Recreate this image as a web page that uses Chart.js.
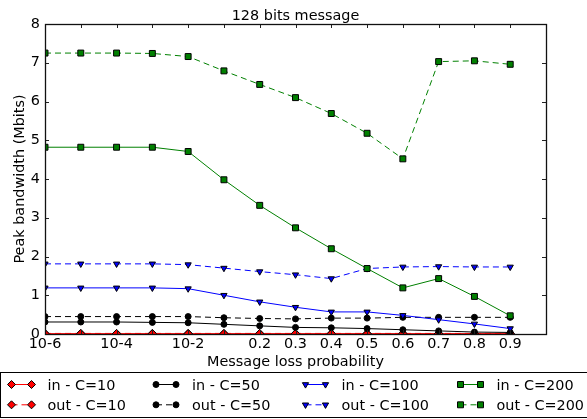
<!DOCTYPE html>
<html>
<head>
<meta charset="utf-8">
<script src="https://cdn.jsdelivr.net/npm/chart.js"></script>
<style>
  html, body { margin: 0; padding: 0; background: #fff; }
  #wrap { width: 587px; height: 419px; }
</style>
</head>
<body>
<div id="wrap"><canvas id="c" width="587" height="419"></canvas></div>
<script>
// Loss probabilities tested (one point per category, plotted at positions 0..13)
const categories = ['10-6', '10-5', '10-4', '10-3', '10-2', '0.1', '0.2', '0.3', '0.4', '0.5', '0.6', '0.7', '0.8', '0.9'];
// Labels shown under the axis ticks 0..14
const tickLabels = ['10-6', '', '10-4', '', '10-2', '', '0.2', '0.3', '0.4', '0.5', '0.6', '0.7', '0.8', '0.9', ''];
const yTickValues = [0, 1, 2, 3, 4, 5, 6, 7, 8];

// Peak bandwidth (Mbits) per loss probability
const inC10   = [0.01, 0.01, 0.01, 0.01, 0.01, 0.01, 0.01, 0.01, 0.01, 0.01, 0.01, 0.01, 0.01, 0.01];
const outC10  = [0.015, 0.015, 0.015, 0.015, 0.015, 0.015, 0.015, 0.015, 0.015, 0.015, 0.015, 0.015, 0.015, 0.015];
const inC50   = [0.31, 0.31, 0.31, 0.30, 0.29, 0.25, 0.21, 0.17, 0.16, 0.14, 0.11, 0.08, 0.05, 0.04];
const outC50  = [0.45, 0.45, 0.45, 0.45, 0.45, 0.42, 0.40, 0.39, 0.41, 0.41, 0.43, 0.43, 0.43, 0.43];
const inC100  = [1.19, 1.19, 1.19, 1.19, 1.17, 1.00, 0.83, 0.69, 0.57, 0.57, 0.48, 0.37, 0.26, 0.14];
const outC100 = [1.81, 1.81, 1.81, 1.81, 1.79, 1.70, 1.61, 1.53, 1.43, 1.69, 1.73, 1.74, 1.73, 1.73];
const inC200  = [4.82, 4.82, 4.82, 4.82, 4.71, 3.98, 3.32, 2.74, 2.20, 1.69, 1.19, 1.43, 0.97, 0.47];
const outC200 = [7.25, 7.25, 7.25, 7.24, 7.16, 6.79, 6.44, 6.10, 5.69, 5.18, 4.52, 7.03, 7.05, 6.96];

// Appearance of each series
const seriesDefs = [
  { label: 'in - C=10',   values: inC10,   color: '#ff0000', dash: [],     marker: 'rectRot',  radius: 4.0, rot: 0 },
  { label: 'out - C=10',  values: outC10,  color: '#ff0000', dash: [6, 4], marker: 'rectRot',  radius: 4.0, rot: 0 },
  { label: 'in - C=50',   values: inC50,   color: '#000000', dash: [],     marker: 'circle',   radius: 3.0, rot: 0 },
  { label: 'out - C=50',  values: outC50,  color: '#000000', dash: [6, 4], marker: 'circle',   radius: 3.0, rot: 0 },
  { label: 'in - C=100',  values: inC100,  color: '#0000ff', dash: [],     marker: 'triangle', radius: 3.6, rot: 180 },
  { label: 'out - C=100', values: outC100, color: '#0000ff', dash: [6, 4], marker: 'triangle', radius: 3.6, rot: 180 },
  { label: 'in - C=200',  values: inC200,  color: '#008000', dash: [],     marker: 'rect',     radius: 4.2, rot: 0 },
  { label: 'out - C=200', values: outC200, color: '#008000', dash: [6, 4], marker: 'rect',     radius: 4.2, rot: 0 }
];

const FONT = 'DejaVu Sans';
const FS = 14.4;
Chart.defaults.font.family = FONT;
Chart.defaults.font.size = FS;
Chart.defaults.color = '#000';

const datasets = seriesDefs.map((s, i) => ({
  label: s.label,
  data: s.values.map((v, k) => ({ x: k, y: v })),
  borderColor: s.color,
  backgroundColor: s.color,
  borderWidth: 1,
  borderDash: s.dash,
  pointStyle: s.marker,
  pointRadius: s.radius,
  pointHoverRadius: s.radius,
  pointRotation: s.rot,
  pointBackgroundColor: s.color,
  pointBorderColor: '#000',
  pointBorderWidth: 1,
  tension: 0,
  clip: 0,
  order: seriesDefs.length - i
}));

// Frame with inward tick marks on all four sides
const framePlugin = {
  id: 'frame',
  afterDatasetsDraw(chart) {
    const { ctx, chartArea: a, scales } = chart;
    const tl = 4;
    ctx.save();
    ctx.strokeStyle = '#222';
    ctx.lineWidth = 1;
    ctx.beginPath();
    scales.x.ticks.forEach(t => {
      const px = Math.round(scales.x.getPixelForValue(t.value)) + 0.5;
      if (px <= a.left + 1 || px >= a.right - 1) return;
      ctx.moveTo(px, a.bottom); ctx.lineTo(px, a.bottom - tl);
      ctx.moveTo(px, a.top); ctx.lineTo(px, a.top + tl);
    });
    scales.y.ticks.forEach(t => {
      const py = Math.round(scales.y.getPixelForValue(t.value)) + 0.5;
      if (py <= a.top + 1 || py >= a.bottom - 1) return;
      ctx.moveTo(a.left, py); ctx.lineTo(a.left + tl, py);
      ctx.moveTo(a.right, py); ctx.lineTo(a.right - tl, py);
    });
    ctx.stroke();
    ctx.lineWidth = 1.3;
    ctx.strokeStyle = '#111';
    ctx.strokeRect(Math.round(a.left) + 0.5, Math.round(a.top) + 0.5,
                   Math.round(a.right - a.left), Math.round(a.bottom - a.top));
    ctx.restore();
  }
};

// Boxed legend below the axes: four columns, "in" on top, "out" below
const legendPlugin = {
  id: 'boxLegend',
  afterDraw(chart) {
    const { ctx } = chart;
    const colX = [11.5, 156, 305.5, 460.5];
    const rowY = [384.5, 404.8];
    ctx.save();
    ctx.strokeStyle = '#000';
    ctx.lineWidth = 1;
    ctx.strokeRect(0.5, 372.5, chart.width + 2, 45);
    ctx.font = FS + 'px "' + FONT + '"';
    ctx.textBaseline = 'middle';
    ctx.textAlign = 'left';
    chart.data.datasets.forEach((ds, i) => {
      const x0 = colX[Math.floor(i / 2)];
      const y = rowY[i % 2];
      const x1 = x0 + 20;
      ctx.save();
      ctx.strokeStyle = ds.borderColor;
      ctx.lineWidth = 1;
      ctx.setLineDash(ds.borderDash);
      ctx.beginPath();
      ctx.moveTo(x0, y); ctx.lineTo(x1, y);
      ctx.stroke();
      ctx.restore();
      ctx.fillStyle = ds.pointBackgroundColor;
      ctx.strokeStyle = ds.pointBorderColor;
      ctx.lineWidth = 1;
      const opts = { pointStyle: ds.pointStyle, rotation: ds.pointRotation, radius: ds.pointRadius, borderWidth: 1 };
      [x0, x1].forEach(px => Chart.helpers.drawPoint(ctx, opts, px, y));
      ctx.fillStyle = '#000';
      ctx.fillText(ds.label, x0 + 36, y + 1.5);
    });
    ctx.restore();
  }
};

new Chart(document.getElementById('c'), {
  type: 'line',
  data: { datasets },
  plugins: [framePlugin, legendPlugin],
  options: {
    responsive: false,
    animation: false,
    devicePixelRatio: 1,
    layout: { padding: { left: 0, right: 41, top: 0, bottom: 47 } },
    plugins: {
      legend: { display: false },
      tooltip: { enabled: false },
      title: {
        display: true,
        text: '128 bits message',
        fullSize: false,
        color: '#000',
        font: { size: FS, weight: 'normal', family: FONT, lineHeight: 1 },
        padding: { top: 9.3, bottom: 0.3 }
      }
    },
    scales: {
      x: {
        type: 'linear',
        min: 0,
        max: tickLabels.length - 1,
        afterFit(scale) { scale.height = 38; },
        afterBuildTicks(scale) { scale.ticks = tickLabels.map((_, k) => ({ value: k })); },
        ticks: {
          autoSkip: false,
          maxRotation: 0,
          padding: 2,
          color: '#000',
          font: { size: FS },
          callback: (v) => tickLabels[v] ?? ''
        },
        grid: { display: false, drawTicks: false },
        border: { display: false },
        title: {
          display: true,
          text: 'Message loss probability',
          color: '#000',
          font: { size: FS },
          padding: { top: 0, bottom: 0.7 }
        }
      },
      y: {
        type: 'linear',
        min: yTickValues[0],
        max: yTickValues[yTickValues.length - 1],
        afterFit(scale) { scale.width = 45; },
        afterBuildTicks(scale) { scale.ticks = yTickValues.map(v => ({ value: v })); },
        ticks: {
          padding: 5,
          color: '#000',
          font: { size: FS },
          callback: (v) => String(v)
        },
        grid: { display: false, drawTicks: false },
        border: { display: false },
        title: {
          display: true,
          text: 'Peak bandwidth (Mbits)',
          color: '#000',
          font: { size: FS },
          padding: { top: 11.4, bottom: 0 }
        }
      }
    }
  }
});
</script>
</body>
</html>
